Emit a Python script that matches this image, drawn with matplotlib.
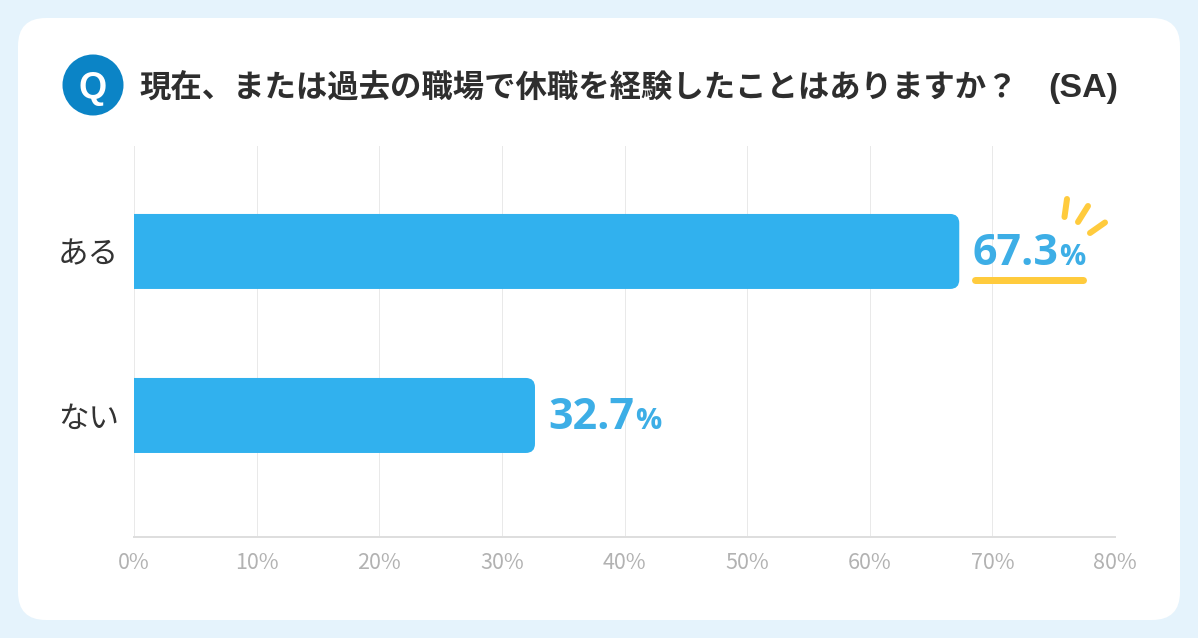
import matplotlib
matplotlib.use("Agg")
import matplotlib.pyplot as plt
from matplotlib.patches import Circle, FancyBboxPatch

plt.rcParams['font.family'] = ['Noto Sans CJK JP', 'DejaVu Sans']

W, H = 1198, 638
PX = 72 / 100  # one pixel in points at dpi 100

categories = ["ある", "ない"]
values = [67.3, 32.7]
x_ticks = [0, 10, 20, 30, 40, 50, 60, 70, 80]
x_labels = [f"{v}%" for v in x_ticks]
title = "現在、または過去の職場で休職を経験したことはありますか？"
title_suffix = "(SA)"

BAR_BLUE = "#31B1EE"
LABEL_BLUE = "#3DAEE6"
YELLOW = "#FFCB3D"

fig = plt.figure(figsize=(W / 100, H / 100), dpi=100, facecolor="#E5F3FC")

# full figure layer in pixel coordinates, for card and decorations
bg = fig.add_axes([0, 0, 1, 1], zorder=0)
bg.set_xlim(0, W)
bg.set_ylim(H, 0)
bg.axis("off")
bg.add_patch(FancyBboxPatch((46, 46), 1106, 546, boxstyle="round,pad=28,rounding_size=28",
                            fc="white", ec="none"))
bg.add_patch(Circle((93, 85), 30.5, fc="#0B84C6", ec="none"))
bg.text(93, 85, "Q", color="white", fontsize=26, fontweight="bold", family="Liberation Sans",
        ha="center", va="center_baseline")
bg.text(139, 85, title, color="#2E2E2E", fontsize=22.6, fontweight="bold",
        ha="left", va="center_baseline")
bg.text(1048, 85, title_suffix, color="#2E2E2E", fontsize=24.5, fontweight="bold",
        family="Liberation Sans", ha="left", va="center_baseline")

# chart
ax = fig.add_axes([134 / W, 1 - 537 / H, (1115 - 134) / W, (537 - 146) / H], zorder=1)
ax.patch.set_alpha(0)
ax.set_xlim(0, 80)
ax.set_ylim(1.741, -0.643)

renderer = fig.canvas.get_renderer()

# rounded bars, aspect keeps the corners circular; left end is clipped at the axis
aspect = (1 / 164) / (80 / 981)
bar_h = 75 / 164
for i, v in enumerate(values):
    ax.add_patch(FancyBboxPatch((-2, i - bar_h / 2), v + 2, bar_h,
                                boxstyle="round,pad=0,rounding_size=0.75",
                                mutation_aspect=aspect, fc=BAR_BLUE, ec="none", zorder=3))
    txt = ax.annotate(f"{v}", xy=(v, i), xytext=(13 * PX, -13.5 * PX), textcoords="offset points",
                      color=LABEL_BLUE, fontsize=31, fontweight="bold", family="Open Sans",
                      ha="left", va="baseline", zorder=4)
    # percent sign shares the baseline, placed after the measured number
    w = txt.get_window_extent(renderer).width
    ax.annotate("%", xy=(v, i), xytext=((13 + w + 1) * PX, -13.5 * PX), textcoords="offset points",
                color=LABEL_BLUE, fontsize=21, fontweight="bold", family="Open Sans",
                ha="left", va="baseline", zorder=4)

ax.set_xticks(x_ticks)
ax.set_xticklabels(x_labels, color="#B2B2B2", fontsize=15.5, family="Noto Sans CJK JP")
ax.set_yticks(range(len(categories)))
ax.set_yticklabels(categories, color="#333333", fontsize=22)
ax.tick_params(axis="x", length=0, pad=10.5)
ax.tick_params(axis="y", length=0, pad=11)
ax.grid(axis="x", color="#E9E9E9", lw=1 * PX, zorder=0)
ax.set_axisbelow(True)
for side in ["top", "right", "left"]:
    ax.spines[side].set_visible(False)
ax.spines["bottom"].set_color("#DEDEDE")
ax.spines["bottom"].set_linewidth(2 * PX)

# yellow underline and sparkle next to the top value
top = fig.add_axes([0, 0, 1, 1], zorder=2)
top.set_xlim(0, W)
top.set_ylim(H, 0)
top.axis("off")
deco = [((975, 1083), (279.5, 279.5), 7),
        ((1067, 1064.5), (199, 217), 6),
        ((1088, 1078), (206, 222), 6),
        ((1105, 1090), (222.5, 233), 6)]
for xs, ys, lw in deco:
    top.plot(xs, ys, color=YELLOW, lw=lw * PX, solid_capstyle="round")

fig.savefig("out.png", dpi=100, facecolor=fig.get_facecolor())
plt.close(fig)
